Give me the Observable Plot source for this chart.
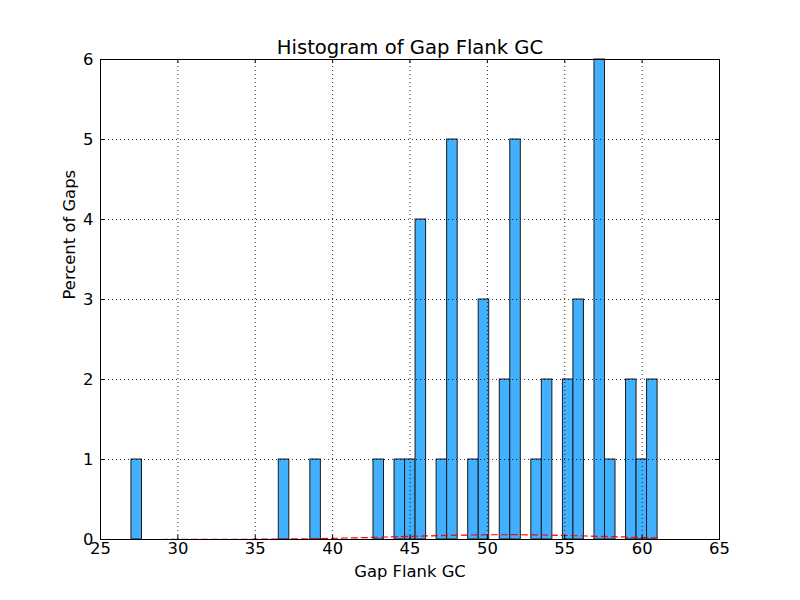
<!DOCTYPE html>
<html>
<head>
<meta charset="utf-8">
<script src="https://cdn.jsdelivr.net/npm/d3@7"></script>
<script src="https://cdn.jsdelivr.net/npm/@observablehq/plot@0.6"></script>
<style>
  html, body { margin: 0; padding: 0; background: #fff; }
  svg { font-family: "DejaVu Sans", sans-serif; }
</style>
</head>
<body>
<div id="chart"></div>
<script>
const binLeft = [27.00, 36.52, 38.56, 42.64, 44.00, 44.68, 45.36, 46.72, 47.40, 48.76, 49.44,
                 50.80, 51.48, 52.84, 53.52, 54.88, 55.56, 56.92, 57.60, 58.96, 59.64, 60.32];
const counts  = [1, 1, 1, 1, 1, 1, 4, 1, 5, 1, 3, 2, 5, 1, 2, 2, 3, 6, 1, 2, 1, 2];
const binWidth = 0.68;

const curveX = [27, 30, 33, 36, 38, 40, 42, 44, 46, 48, 50, 52, 54, 56, 58, 60, 61];
const curveY = [0.0001, 0.0004, 0.0014, 0.0044, 0.0084, 0.0146, 0.0232, 0.0337, 0.0445,
                0.0539, 0.0594, 0.0598, 0.0549, 0.0461, 0.0353, 0.0247, 0.0199];

const xTicks = [25, 30, 35, 40, 45, 50, 55, 60, 65];
const yTicks = [0, 1, 2, 3, 4, 5, 6];

const bars = binLeft.map((x, i) => ({x1: x, x2: x + binWidth, y: counts[i]}));
const curve = curveX.map((x, i) => ({x, y: curveY[i]}));

const W = 800, H = 600, mL = 100, mR = 81, mT = 59, mB = 61;
const plotW = W - mL - mR, plotH = H - mT - mB;

const chart = Plot.plot({
  width: W, height: H,
  marginLeft: mL, marginRight: mR, marginTop: mT, marginBottom: mB,
  style: {fontFamily: "DejaVu Sans, sans-serif", fontSize: "16px", background: "#fff", color: "#000"},
  x: {domain: [25, 65]},
  y: {domain: [0, 6]},
  marks: [
    Plot.rectY(bars, {x1: "x1", x2: "x2", y: "y", fill: "#40b0ff", stroke: "#1a1a1a", strokeWidth: 1}),
    Plot.line(curve, {x: "x", y: "y", stroke: "#ff0000", strokeWidth: 1.2, strokeDasharray: "6,4"}),
    Plot.ruleX(xTicks.slice(1, -1), {x: d => d, y1: 0, y2: 6, stroke: "#000", strokeWidth: 0.8, strokeDasharray: "1,3"}),
    Plot.ruleY(yTicks.slice(1, -1), {y: d => d, x1: 25, x2: 65, stroke: "#000", strokeWidth: 0.8, strokeDasharray: "1,3"}),
    // inward ticks (bottom, top, left, right)
    Plot.ruleX(xTicks, {x: d => d, y1: 6, y2: 0, insetTop: plotH - 4, stroke: "#000"}),
    Plot.ruleX(xTicks, {x: d => d, y1: 6, y2: 0, insetBottom: plotH - 4, stroke: "#000"}),
    Plot.ruleY(yTicks, {y: d => d, x1: 25, x2: 65, insetRight: plotW - 4, stroke: "#000"}),
    Plot.ruleY(yTicks, {y: d => d, x1: 25, x2: 65, insetLeft: plotW - 4, stroke: "#000"}),
    Plot.frame({stroke: "#000", strokeWidth: 1}),
    Plot.axisX(xTicks, {tickSize: 0, tickPadding: 3, label: null, fontSize: 16.4, tickFormat: d => String(d)}),
    Plot.axisY(yTicks, {tickSize: 0, tickPadding: 7, label: null, fontSize: 16.4, tickFormat: d => String(d)}),
    Plot.text(["Gap Flank GC"], {frameAnchor: "bottom", lineAnchor: "middle", dy: 32, fontSize: 16.4, fill: "#000"}),
    Plot.text(["Percent of Gaps"], {frameAnchor: "left", dx: -31, rotate: -90, fontSize: 16.4, fill: "#000"}),
    Plot.text(["Histogram of Gap Flank GC"], {frameAnchor: "top", lineAnchor: "middle", dy: -12, fontSize: 19.6, fill: "#000"})
  ]
});
document.getElementById("chart").appendChild(chart);
</script>
</body>
</html>
